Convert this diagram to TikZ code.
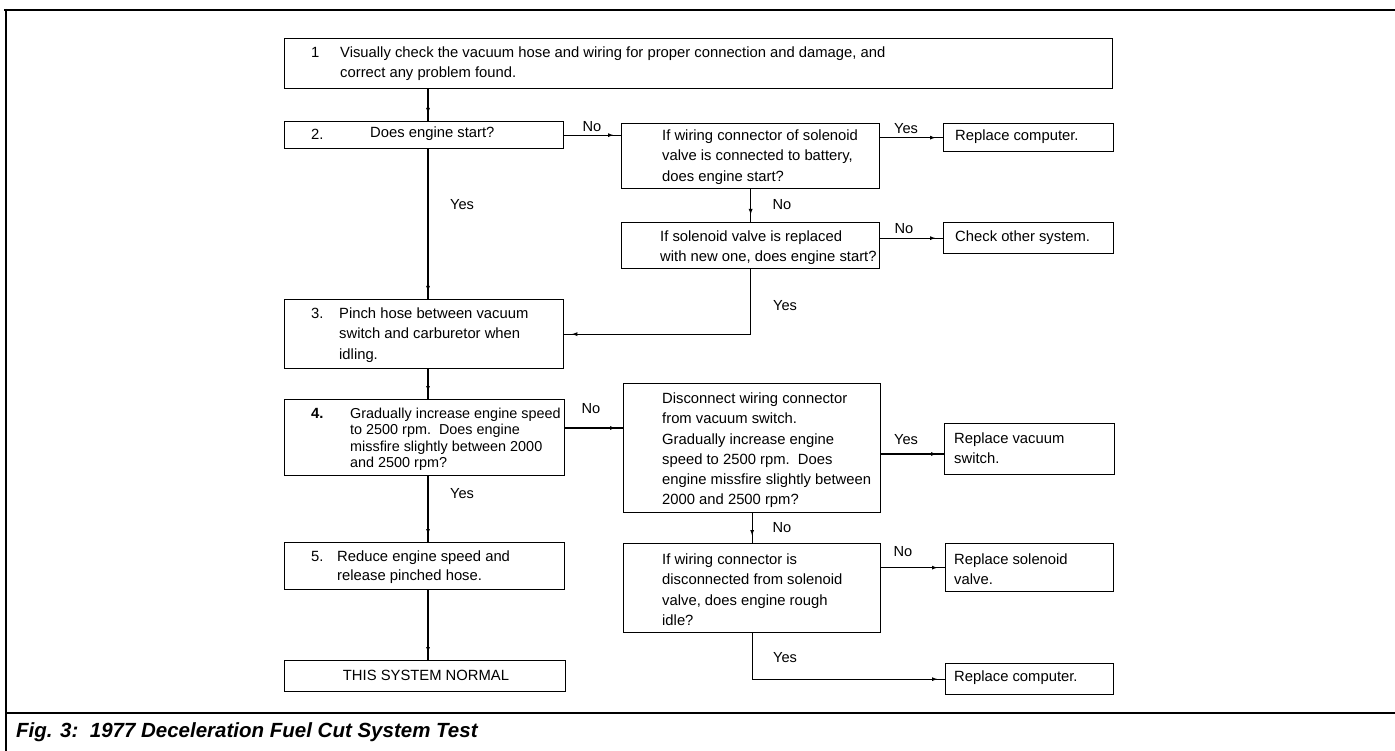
\documentclass[tikz,border=0pt]{standalone}
\usepackage{fontspec}
\setmainfont{Liberation Sans}
\usetikzlibrary{arrows.meta,decorations.markings,calc}
\begin{document}
\begin{tikzpicture}[x=1pt,y=-1pt,
  box/.style={draw, line width=1.3pt, inner sep=0pt, anchor=north west},
  txt/.style={inner sep=0pt, anchor=north west, align=left, font=\fontsize{14.8}{20.3}\selectfont},
  numtxt/.style={inner sep=0pt, anchor=west, font=\fontsize{14.8}{17}\selectfont},
  lbl/.style={inner sep=0pt, font=\fontsize{14.6}{17}\selectfont},
  flow/.style={line width=1.1pt, decoration={markings, mark=at position -7pt with {\arrow{Latex[length=6pt,width=4pt]}}}, postaction={decorate}},
  frame/.style={line width=2.4pt}
]
\useasboundingbox (0,0) rectangle (1395,751);

% frame
\draw[frame] (4,10) -- (1395,10);
\draw[line width=2pt] (6,9) -- (6,751);
\draw[frame] (6,713) -- (1395,713);
\node[inner sep=0pt, anchor=west, font=\fontsize{20.5}{23}\selectfont\bfseries\itshape] (cap) at (16,732) {Fig. 3:\ \ 1977 Deceleration Fuel Cut System Test};

% left column boxes
\node[box, minimum width=828, minimum height=50] (b1) at (284,38) {};
\node[box, minimum width=279, minimum height=27] (b2) at (284,121) {};
\node[box, minimum width=279, minimum height=69] (b3) at (284,299) {};
\node[box, minimum width=280, minimum height=76] (b4) at (284,399) {};
\node[box, minimum width=280, minimum height=47] (b5) at (284,542) {};
\node[box, minimum width=281, minimum height=31] (b6) at (284,660) {};

% middle column boxes
\node[box, minimum width=258, minimum height=65] (bA) at (621,123) {};
\node[box, minimum width=258, minimum height=46] (bB) at (621,222) {};
\node[box, minimum width=257, minimum height=129] (bC) at (623,383) {};
\node[box, minimum width=257, minimum height=89] (bD) at (623,543) {};

% right column boxes
\node[box, minimum width=170, minimum height=28] (rc1) at (943,123) {};
\node[box, minimum width=170, minimum height=31] (cos) at (943,222) {};
\node[box, minimum width=170, minimum height=51] (rvs) at (944,423) {};
\node[box, minimum width=168, minimum height=48] (rsv) at (945,543) {};
\node[box, minimum width=168, minimum height=31] (rc2) at (945,663) {};

% texts
\node[numtxt] (n1) at (311,52) {1};
\node[txt] (t1) at (340,46.5) {Visually check the vacuum hose and wiring for proper connection and damage, and\\correct any problem found.};
\node[numtxt] (n2) at (311,134) {2.};
\node[numtxt] (t2) at (370,134) {Does engine start?};
\node[numtxt] (n3) at (311,313) {3.};
\node[txt] (t3) at (339,307.5) {Pinch hose between vacuum\\switch and carburetor when\\idling.};
\node[numtxt, font=\fontsize{14.8}{17}\selectfont\bfseries] (n4) at (311,413) {4.};
\node[txt, font=\fontsize{14.4}{16.6}\selectfont] (t4) at (350,407.5) {Gradually increase engine speed\\to 2500 rpm.\ \ Does engine\\missfire slightly between 2000\\and 2500 rpm?};
\node[numtxt] (n5) at (311,556) {5.};
\node[txt, font=\fontsize{14.8}{19.5}\selectfont] (t5) at (337,550.5) {Reduce engine speed and\\release pinched hose.};
\node[lbl, font=\fontsize{14.8}{17}\selectfont] (t6) at (426,675) {THIS SYSTEM NORMAL};

\node[txt] (tA) at (662,129.5) {If wiring connector of solenoid\\valve is connected to battery,\\does engine start?};
\node[txt] (tB) at (660,230.5) {If solenoid valve is replaced\\with new one, does engine start?};
\node[txt] (tC) at (662,392.5) {Disconnect wiring connector\\from vacuum switch.\\Gradually increase engine\\speed to 2500 rpm.\ \ Does\\engine missfire slightly between\\2000 and 2500 rpm?};
\node[txt] (tD) at (662,553.5) {If wiring connector is\\disconnected from solenoid\\valve, does engine rough\\idle?};

\node[numtxt] (trc1) at (955,137) {Replace computer.};
\node[numtxt] (tcos) at (955,238) {Check other system.};
\node[txt] (trvs) at (954,432.5) {Replace vacuum\\switch.};
\node[txt] (trsv) at (954,553.5) {Replace solenoid\\valve.};
\node[numtxt] (trc2) at (954,678) {Replace computer.};

% helper coordinates
\coordinate (colx) at (428,0);
\coordinate (r4) at (0,428);
\coordinate (rC) at (0,454);

% connectors
\draw[flow] (b1.south -| colx) -- (b2.north -| colx);
\draw[flow] (b2.south -| colx) -- (b3.north -| colx);
\draw[flow] (b3.south -| colx) -- (b4.north -| colx);
\draw[flow] (b4.south -| colx) -- (b5.north -| colx);
\draw[flow] (b5.south -| colx) -- (b6.north -| colx);
\draw[flow] (b2.east) -- (b2.east -| bA.west);
\draw[flow] (rc1.west -| bA.east) -- (rc1.west);
\draw[flow] (bA.south) -- (bB.north);
\draw[flow] (cos.west -| bB.east) -- (cos.west);
\draw[flow] (bB.south) |- (b3.east);
\draw[flow] (b4.east |- r4) -- (bC.west |- r4);
\draw[flow] (bC.east |- rC) -- (rvs.west |- rC);
\draw[flow] (bC.south) -- (bD.north);
\draw[flow] (rsv.west -| bD.east) -- (rsv.west);
\draw[flow] (bD.south) |- (rc2.west);

% connector labels
\node[lbl] (l1) at (592,127) {No};
\node[lbl] (l2) at (906,129) {Yes};
\node[lbl] (l3) at (782,205) {No};
\node[lbl] (l4) at (904,229) {No};
\node[lbl] (l5) at (785,306) {Yes};
\node[lbl] (l6) at (462,205) {Yes};
\node[lbl] (l7) at (591,409) {No};
\node[lbl] (l8) at (906,440) {Yes};
\node[lbl] (l9) at (462,494) {Yes};
\node[lbl] (l10) at (782,528) {No};
\node[lbl] (l11) at (903,552) {No};
\node[lbl] (l12) at (785,658) {Yes};
\end{tikzpicture}
\end{document}
